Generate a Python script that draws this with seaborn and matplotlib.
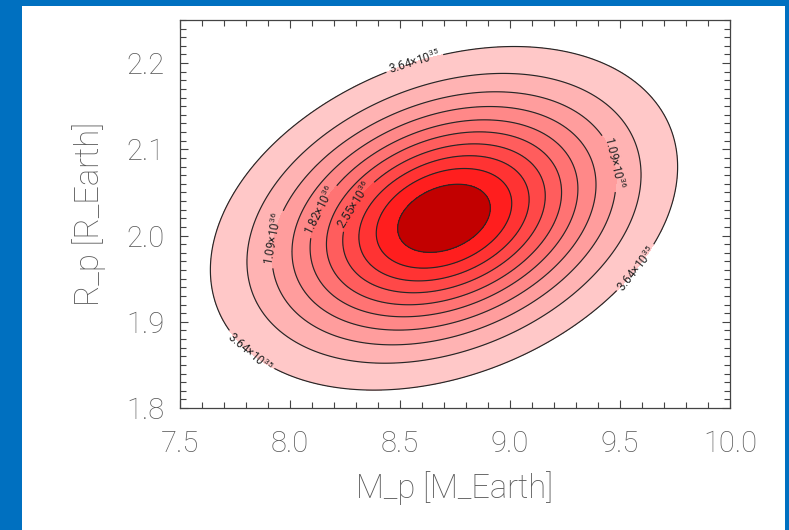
import numpy as np
import matplotlib
matplotlib.use("Agg")
import matplotlib.pyplot as plt
import seaborn as sns
from matplotlib.patches import Rectangle
from matplotlib.ticker import MultipleLocator

# ---- data ----
mass_center = 8.70        # M_Earth
radius_center = 2.02      # R_Earth
mass_sigma = 0.485
radius_sigma = 0.091
correlation = 0.30
peak_value = 4.0e36
contour_levels = [3.64e35, 7.27e35, 1.09e36, 1.45e36, 1.82e36,
                  2.18e36, 2.55e36, 2.91e36, 3.27e36, 3.64e36]
labelled_levels = [3.64e35, 1.09e36, 1.82e36, 2.55e36]
x_ticks = [7.5, 8.0, 8.5, 9.0, 9.5, 10.0]
y_ticks = [1.8, 1.9, 2.0, 2.1, 2.2]
x_label = "M_p [M_Earth]"
y_label = "R_p [R_Earth]"
# label anchor points (data coords) for the labelled contours
label_points = [(8.55, 2.214), (9.54, 1.969), (7.82, 1.866),
                (7.97, 1.994), (9.41, 2.081), (8.14, 2.029), (8.30, 2.035)]

sns.set_style("white")
plt.rcParams["font.family"] = ["Roboto", "DejaVu Sans"]
plt.rcParams["mathtext.fontset"] = "custom"
plt.rcParams["mathtext.rm"] = "Roboto"
plt.rcParams["mathtext.it"] = "Roboto"

fig = plt.figure(figsize=(7.89, 5.30), dpi=100, facecolor="#0070C0")
fig.patches.append(Rectangle((22/789, 0), (785-22)/789, 1-6/530,
                             transform=fig.transFigure, facecolor="white",
                             edgecolor="none", zorder=-10))
ax = fig.add_axes([180/789, 1-408/530, 550/789, 388/530])
ax.set_zorder(5)
ax.set_facecolor("white")

xg = np.linspace(7.5, 10.0, 500)
yg = np.linspace(1.8, 2.25, 500)
X, Y = np.meshgrid(xg, yg)
dx = (X - mass_center) / mass_sigma
dy = (Y - radius_center) / radius_sigma
q = (dx**2 - 2*correlation*dx*dy + dy**2) / (1 - correlation**2)
Z = peak_value * np.exp(-0.5 * q)

fill_colors = sns.blend_palette(["#FFC8C8", "#FF1E1E"], 9) + ["#C20000"]
ax.contourf(X, Y, Z, levels=contour_levels + [Z.max() * 1.01],
            colors=fill_colors)
plain_levels = [v for v in contour_levels if v not in labelled_levels]
ax.contour(X, Y, Z, levels=plain_levels, colors="#262626", linewidths=0.85)
cs = ax.contour(X, Y, Z, levels=labelled_levels, colors="#262626",
                linewidths=0.85)

def fmt(v):
    m, e = f"{v:.2e}".split("e")
    return r"$%s{\times}10^{%d}$" % (m, int(e))

ax.clabel(cs, fmt=fmt, fontsize=8.5, inline=True, inline_spacing=3,
          manual=label_points, colors="#222222")

ax.set_xlim(7.5, 10.0)
ax.set_ylim(1.8, 2.25)
ax.set_xticks(x_ticks)
ax.set_yticks(y_ticks)
ax.set_xticklabels([f"{t:.1f}" for t in x_ticks])
ax.set_yticklabels([f"{t:.1f}" for t in y_ticks])
ax.xaxis.set_minor_locator(MultipleLocator(0.1))
ax.yaxis.set_minor_locator(MultipleLocator(0.01))
ax.tick_params(which="both", direction="in", top=True, right=True,
               bottom=True, left=True, color="#444444", width=0.8)
ax.tick_params(which="major", length=6, labelsize=21, labelcolor="#5a5a5a")
ax.tick_params(axis="x", which="major", pad=16)
ax.tick_params(axis="y", which="major", pad=11)
ax.tick_params(which="minor", length=4)
for s in ax.spines.values():
    s.set_color("#444444")
    s.set_linewidth(0.9)

ax.set_xlabel(x_label, fontsize=23.5, color="#5a5a5a", fontweight="light",
              labelpad=9)
ax.set_ylabel(y_label, fontsize=23.5, color="#5a5a5a", fontweight="light",
              labelpad=15)
for t in ax.get_xticklabels() + ax.get_yticklabels():
    t.set_fontweight("light")

fig.savefig("out.png", dpi=100, facecolor=fig.get_facecolor())
